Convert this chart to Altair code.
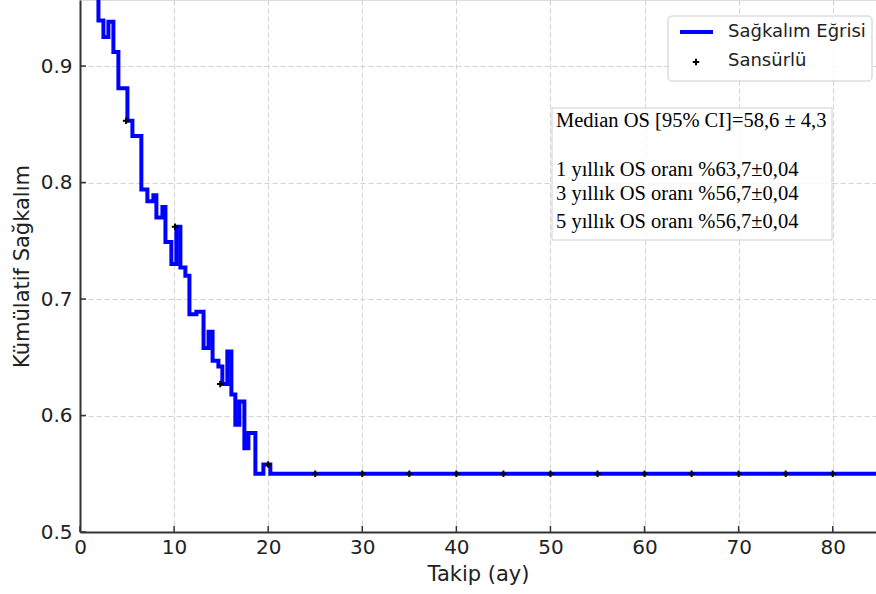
import altair as alt
import pandas as pd

# Survival curve (step-after)
step_x = [0, 1.96, 2.49, 3.02, 3.55, 4.08, 5.04, 5.57, 6.52, 7.16, 7.80, 8.12, 8.76,
          9.08, 9.71, 10.24, 10.67, 11.20, 11.63, 12.37, 13.13, 13.66, 14.09, 14.71,
          15.13, 15.66, 16.09, 16.51, 16.94, 17.47, 17.90, 18.64, 19.49, 20.23, 90]
step_y = [1.0, 0.939, 0.925, 0.938, 0.912, 0.881, 0.853, 0.840, 0.794, 0.784, 0.789,
          0.770, 0.779, 0.749, 0.730, 0.762, 0.727, 0.720, 0.687, 0.689, 0.658, 0.672,
          0.647, 0.642, 0.627, 0.655, 0.618, 0.592, 0.612, 0.572, 0.585, 0.550,
          0.558, 0.550, 0.550]

# Censored observations
cens_x = [4.9, 10.1, 14.9, 20.0, 25, 30, 35, 40, 45, 50, 55, 60, 65, 70, 75, 80]
cens_y = [0.853, 0.762, 0.627, 0.558] + [0.550] * 12

x_ticks = [0, 10, 20, 30, 40, 50, 60, 70, 80]
y_ticks = [0.5, 0.6, 0.7, 0.8, 0.9]

legend_labels = ["Sağkalım Eğrisi", "Sansürlü"]
box_lines = ["Median OS [95% CI]=58,6 ± 4,3",
             "1 yıllık OS oranı %63,7±0,04",
             "3 yıllık OS oranı %56,7±0,04",
             "5 yıllık OS oranı %56,7±0,04"]

W, H = 796, 532
FONT = "DejaVu Sans"
SERIF = "Liberation Serif"
PLUS = "M-1,0L1,0M0,-1L0,1"
AX = "#333333"

curve_df = pd.DataFrame({"t": step_x, "s": step_y, "i": range(len(step_x))})
cens_df = pd.DataFrame({"t": cens_x, "s": cens_y})
xt_df = pd.DataFrame({"v": x_ticks})
yt_df = pd.DataFrame({"v": y_ticks})

xs = alt.Scale(domain=[0, 84.6], nice=False, zero=False)
ys = alt.Scale(domain=[0.5, 0.9567], nice=False, zero=False)

x_axis = alt.Axis(values=x_ticks, title="Takip (ay)", format="d", grid=True,
                  gridDash=[5, 3], gridColor="#d2d2d2", gridWidth=1,
                  labelFont=FONT, labelFontSize=20, labelColor="#222",
                  titleFont=FONT, titleFontSize=21, titleFontWeight="normal",
                  titleColor="#222", titlePadding=6, labelPadding=5,
                  ticks=False, domainColor=AX, domainWidth=2, labelFlush=False)
y_axis = alt.Axis(values=y_ticks, title="Kümülatif Sağkalım", format=".1f", grid=True,
                  gridDash=[5, 3], gridColor="#d2d2d2", gridWidth=1,
                  labelFont=FONT, labelFontSize=20, labelColor="#222",
                  titleFont=FONT, titleFontSize=21, titleFontWeight="normal",
                  titleColor="#222", titlePadding=8, labelPadding=8,
                  ticks=False, domainColor=AX, domainWidth=2, labelFlush=False)

curve = alt.Chart(curve_df).mark_line(
    interpolate="step-after", color="#0000ff", strokeWidth=4, clip=True
).encode(
    x=alt.X("t:Q", scale=xs, axis=x_axis),
    y=alt.Y("s:Q", scale=ys, axis=y_axis),
    order="i:Q",
)

# inward ticks (matplotlib style)
xticks = alt.Chart(xt_df).mark_rule(color=AX, strokeWidth=1.5).encode(
    x=alt.X("v:Q", scale=xs), y=alt.value(H - 6), y2=alt.value(H))
yticks = alt.Chart(yt_df).mark_rule(color=AX, strokeWidth=1.5).encode(
    y=alt.Y("v:Q", scale=ys), x=alt.value(0), x2=alt.value(6))

cens = alt.Chart(cens_df).mark_point(
    shape=PLUS, color="black", strokeWidth=2, size=42, filled=False, opacity=1, clip=True
).encode(x=alt.X("t:Q", scale=xs), y=alt.Y("s:Q", scale=ys))

one = pd.DataFrame({"k": [0]})

# Legend (manual, matplotlib-like)
leg_box = alt.Chart(one).mark_rect(
    fill="white", fillOpacity=0.85, stroke="#cccccc", strokeWidth=1, cornerRadius=4
).encode(x=alt.value(588), x2=alt.value(792), y=alt.value(16), y2=alt.value(81))
leg_line = alt.Chart(one).mark_rule(color="#0000ff", strokeWidth=4).encode(
    x=alt.value(600), x2=alt.value(633), y=alt.value(32))
leg_plus = alt.Chart(one).mark_point(
    shape=PLUS, color="black", strokeWidth=2, size=42, filled=False, opacity=1
).encode(x=alt.value(616), y=alt.value(62))
leg_t1 = alt.Chart(one).mark_text(
    align="left", baseline="middle", font=FONT, fontSize=18, color="#222"
).encode(x=alt.value(648), y=alt.value(32), text=alt.value(legend_labels[0]))
leg_t2 = alt.Chart(one).mark_text(
    align="left", baseline="middle", font=FONT, fontSize=18, color="#222"
).encode(x=alt.value(648), y=alt.value(61), text=alt.value(legend_labels[1]))

# Annotation box
ann_box = alt.Chart(one).mark_rect(
    fill="white", fillOpacity=0.8, stroke="#d0d0d0", strokeWidth=1
).encode(x=alt.value(472), x2=alt.value(752), y=alt.value(108), y2=alt.value(240))
ann_y = [121, 170, 194, 222]
ann = []
for line, yy in zip(box_lines, ann_y):
    ann.append(alt.Chart(one).mark_text(
        align="left", baseline="middle", font=SERIF, fontSize=20.5, color="black"
    ).encode(x=alt.value(476), y=alt.value(yy), text=alt.value(line)))

chart = alt.layer(curve, xticks, yticks, cens, ann_box, *ann, leg_box, leg_line,
                  leg_plus, leg_t1, leg_t2).properties(
    width=W, height=H,
    autosize=alt.AutoSizeParams(type="none"),
    padding={"left": 80, "top": 0, "right": 0, "bottom": 62},
).configure_view(stroke=None).configure(background="white")

chart.save("out.html", embed_options={"renderer": "svg", "actions": False})
